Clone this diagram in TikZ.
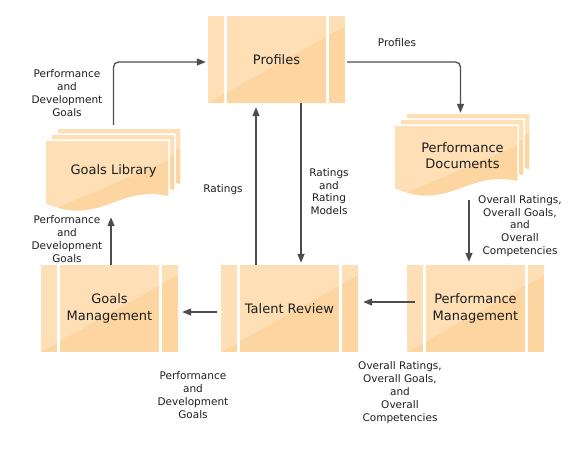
\documentclass[tikz,border=0pt]{standalone}
\usepackage{fontspec}
\setmainfont{DejaVu Sans}
\usetikzlibrary{arrows.meta,calc}

\definecolor{procdark}{RGB}{253,213,160}
\definecolor{proclight}{RGB}{254,223,182}
\definecolor{flowgray}{RGB}{77,77,77}
\definecolor{inkgray}{RGB}{30,30,30}

% one page of a document stack, top left corner at the origin
\newcommand\docpage{(0,0) -- (124,0) -- (124,57) .. controls (74,45) and (55,88) .. (0,64) -- cycle}
% three stacked pages, top left corner of the stack at (#1,#2)
\newcommand\docpages[2]{%
  \foreach \s in {12,6,0} {
    \begin{scope}[shift={(#1+\s,#2+12-\s)}]
      \fill[procdark] \docpage;
      \begin{scope}
        \clip \docpage;
        \fill[proclight] (0,73) -- (0,0) -- (124,0) -- (124,20) -- cycle;
      \end{scope}
      \draw[white, line width=1.5pt] \docpage;
    \end{scope}
  }}

\tikzset{
  boxfont/.style={font=\fontsize{13}{16.5}\selectfont, text=inkgray, align=center},
  lblfont/.style={font=\fontsize{10.5}{12.8}\selectfont, text=inkgray, align=center, inner sep=0pt},
  procbox/.style={boxfont, minimum width=137pt, minimum height=87pt, inner sep=0pt, fill=white,
    path picture={
      \fill[procdark] (path picture bounding box.south west) rectangle (path picture bounding box.north east);
      \fill[proclight] (path picture bounding box.south west) -- (path picture bounding box.north west)
        -- (path picture bounding box.north east) -- ($(path picture bounding box.north east)+(0,10)$) -- cycle;
      \fill[white] ($(path picture bounding box.north west)+(16,0)$) rectangle ($(path picture bounding box.south west)+(19,0)$);
      \fill[white] ($(path picture bounding box.north east)+(-19,0)$) rectangle ($(path picture bounding box.south east)+(-16,0)$);
    }},
  docstack/.style={boxfont, minimum width=137pt, minimum height=85pt, inner sep=0pt},
  flow/.style={draw=flowgray, line width=1.3pt, -{Triangle[length=9pt,width=7pt]}}
}

\begin{document}
\begin{tikzpicture}[x=1pt, y=-1pt]
  \useasboundingbox (0,0) rectangle (576,456);

  % process boxes
  \node[procbox] (prof) at (276.5,59.5) {Profiles};
  \node[procbox] (gm) at (109.5,308.5) {Goals\\Management};
  \node[procbox] (tr) at (289.5,308.5) {Talent Review};
  \node[procbox] (pm) at (475.5,308.5) {Performance\\Management};

  % document stacks
  \docpages{45}{128}
  \docpages{394}{113}
  \node[docstack] (gl) at (113.5,170.5) {Goals Library};
  \node[docstack] (pd) at (462.5,155.5) {Performance\\Documents};

  % connectors
  \draw[flow, rounded corners=5pt, shorten <=3pt, shorten >=2pt] (gl.north) |- ([yshift=-2.5pt]prof.west);
  \draw[flow, rounded corners=5pt, shorten <=2pt] ([yshift=-2.5pt]prof.east) -| ([xshift=-2pt]pd.north);
  \draw[flow, shorten >=2pt] ([xshift=24.5pt]prof.south) -- ([xshift=11.5pt]tr.north);
  \draw[flow, shorten >=4pt] ([xshift=-33.5pt]tr.north) -- ([xshift=-20.5pt]prof.south);
  \draw[flow, shorten <=2pt, shorten >=3pt] ([xshift=6.5pt]pd.south) -- ([xshift=-6.5pt]pm.north);
  \draw[flow, shorten <=-8pt, shorten >=5pt] ([yshift=6.5pt]pm.west) -- ([yshift=6.5pt]tr.east);
  \draw[flow, shorten <=4pt, shorten >=4pt] ([yshift=-3.5pt]tr.west) -- ([yshift=-3.5pt]gm.east);
  \draw[flow, shorten >=4pt] ([xshift=1.5pt]gm.north) -- ([xshift=-2.5pt]gl.south);

  % connector labels
  \node[lblfont] (lblgoalstop) at (67,93) {Performance\\and\\Development\\Goals};
  \node[lblfont] (lblprofiles) at (397,43) {Profiles};
  \node[lblfont] (lblratings) at (223,190) {Ratings};
  \node[lblfont] (lblmodels) at (329,191.5) {Ratings\\and\\Rating\\Models};
  \node[lblfont] (lbloverallright) at (520,226) {Overall Ratings,\\Overall Goals,\\and\\Overall\\Competencies};
  \node[lblfont] (lbloverallbottom) at (400,392.5) {Overall Ratings,\\Overall Goals,\\and\\Overall\\Competencies};
  \node[lblfont] (lblgoalsbottom) at (193,395) {Performance\\and\\Development\\Goals};
  \node[lblfont] (lblgoalsleft) at (67,239) {Performance\\and\\Development\\Goals};
\end{tikzpicture}
\end{document}
